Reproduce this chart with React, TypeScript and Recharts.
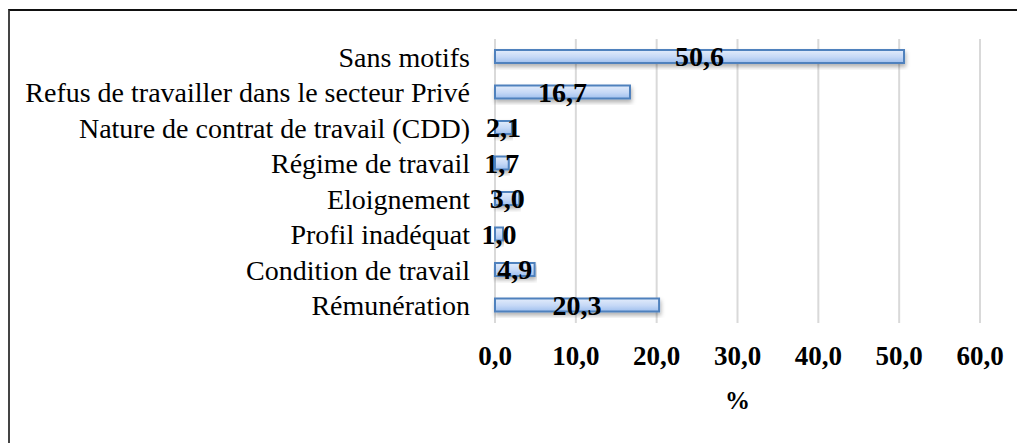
import { BarChart, Bar, XAxis, YAxis, CartesianGrid, LabelList } from 'recharts';

const categories = [
  'Sans motifs',
  'Refus de travailler dans le secteur Privé',
  'Nature de contrat de travail (CDD)',
  'Régime de travail',
  'Eloignement',
  'Profil inadéquat',
  'Condition de travail',
  'Rémunération',
];

const percents = [50.6, 16.7, 2.1, 1.7, 3.0, 1.0, 4.9, 20.3];

const xTicks = [0, 10, 20, 30, 40, 50, 60];

const chartData = categories.map((name, i) => ({ name, value: percents[i] }));

const fmt = (v: number) => v.toFixed(1).replace('.', ',');

const FONT = '"Liberation Serif", "Times New Roman", serif';

export default function App() {
  return (
    <div style={{ position: 'relative', width: 1017, height: 435, fontFamily: FONT }}>
      <div
        style={{
          position: 'absolute',
          left: 0,
          top: 1,
          width: 1017,
          height: 434,
          borderTop: '2px solid #111',
          borderLeft: '2px solid #444',
          boxSizing: 'border-box',
        }}
      />
      <div style={{ position: 'absolute', left: 0, top: 2 }}>
        <BarChart
          width={1017}
          height={431}
          data={chartData}
          layout="vertical"
          margin={{ top: 29, right: 45, left: 0, bottom: 32 }}
        >
          <defs>
            <linearGradient id="barFill" x1="0" y1="0" x2="0" y2="1">
              <stop offset="0%" stopColor="#e3ecfb" />
              <stop offset="55%" stopColor="#c5d8f6" />
              <stop offset="100%" stopColor="#9fbfee" />
            </linearGradient>
            <filter id="shadow" x="-5%" y="-30%" width="110%" height="180%">
              <feDropShadow dx="1" dy="3" stdDeviation="2" floodColor="#000" floodOpacity="0.3" />
            </filter>
          </defs>
          <CartesianGrid horizontal={false} stroke="#d9d9d9" strokeWidth={2} />
          <XAxis
            type="number"
            domain={[0, 60]}
            ticks={xTicks}
            tickFormatter={fmt}
            axisLine={false}
            tickLine={false}
            tickSize={6}
            tickMargin={17}
            height={86}
            tick={{ fill: '#000', fontSize: 27, fontWeight: 'bold', fontFamily: FONT }}
            label={{
              value: '%',
              position: 'insideBottom',
              offset: 0,
              fill: '#000',
              fontSize: 25,
              fontWeight: 'bold',
              fontFamily: FONT,
            }}
          />
          <YAxis
            type="category"
            dataKey="name"
            width={487}
            axisLine={false}
            tickLine={false}
            tickSize={6}
            tickMargin={19}
            interval={0}
            tick={{ fill: '#000', fontSize: 28, fontFamily: FONT }}
          />
          <Bar
            dataKey="value"
            barSize={13}
            fill="url(#barFill)"
            stroke="#4f81bd"
            strokeWidth={2}
            filter="url(#shadow)"
            isAnimationActive={false}
          >
            <LabelList
              dataKey="value"
              position="center"
              formatter={(v: any) => fmt(Number(v))}
              fill="#000"
              fontSize={28}
              fontWeight="bold"
              fontFamily={FONT}
            />
          </Bar>
        </BarChart>
      </div>
    </div>
  );
}
